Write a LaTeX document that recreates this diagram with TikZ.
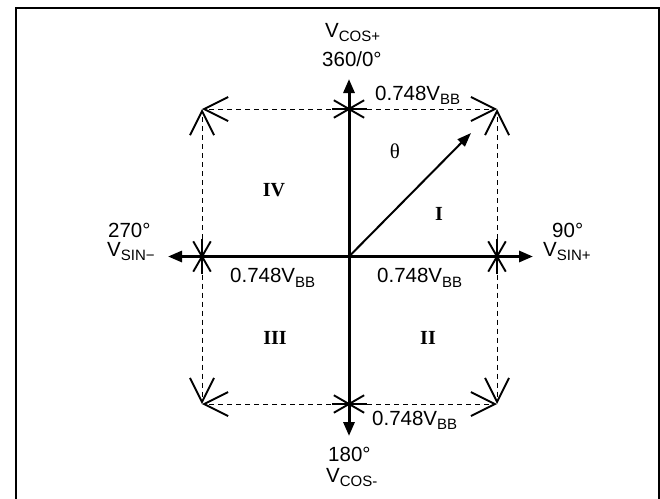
\documentclass[tikz,border=0pt]{standalone}
\usepackage{fontspec}
\setmainfont{Liberation Sans}
\newfontfamily\romanfont{Liberation Serif}
\usetikzlibrary{arrows.meta,calc}
\newcommand{\Vsub}[2]{#1\raisebox{-4.5pt}{\fontsize{15}{15}\selectfont #2}}
\begin{document}
\begin{tikzpicture}[x=1pt,y=-1pt,
  lbl/.style={inner sep=0pt,anchor=base west,font=\fontsize{20.5}{22}\selectfont},
  quad/.style={inner sep=0pt,font=\romanfont\bfseries\fontsize{20}{22}\selectfont},
  axis/.style={line width=3pt,-{Triangle[length=14pt,width=11pt]}},
  vec/.style={line width=2pt,-{Triangle[length=14pt,width=10pt]}},
  guide/.style={line width=0.8pt,dash pattern=on 5pt off 4pt,
    -{Straight Barb[length=24pt,width=24pt,line width=1.9pt]}},
  startick/.style={line width=1.9pt},
  frame/.style={line width=2pt}]
\useasboundingbox (0,0) rectangle (660,498);
% frame
\draw[frame] (16,499) -- (16,8) -- (659,8) -- (659,499);
% key points
\coordinate (O) at (349,256.5);
\coordinate (T) at (349,109);
\coordinate (B) at (349,404);
\coordinate (L) at (202,256.5);
\coordinate (R) at (497,256.5);
\coordinate (TL) at (202,109);
\coordinate (TR) at (497,109);
\coordinate (BL) at (202,404);
\coordinate (BR) at (497,404);
\coordinate (TT) at (349,79);
\coordinate (BT) at (349,436);
\coordinate (LT) at (168,256.5);
\coordinate (RT) at (533,256.5);
\coordinate (V) at (471,133);
% dashed guides with open heads at the corners
\draw[guide] (T) -- (TL);
\draw[guide] (T) -- (TR);
\draw[guide] (B) -- (BL);
\draw[guide] (B) -- (BR);
\draw[guide] (L) -- (TL);
\draw[guide] (L) -- (BL);
\draw[guide] (R) -- (TR);
\draw[guide] (R) -- (BR);
% axes
\draw[axis] (O) -- (TT);
\draw[axis] (O) -- (BT);
\draw[axis] (O) -- (LT);
\draw[axis] (O) -- (RT);
% vector
\draw[vec] (O) -- (V);
% star markers
\foreach \p in {T,B}{
  \foreach \a in {0,30,150}{
    \draw[startick] ($(\p)+(\a:17.5)$) -- ($(\p)+(\a+180:17.5)$);}}
\foreach \p in {L,R}{
  \foreach \a in {90,60,120}{
    \draw[startick] ($(\p)+(\a:17.5)$) -- ($(\p)+(\a+180:17.5)$);}}
% labels
\node[lbl] (vcosp) at (325,37) {\Vsub{V}{COS+}};
\node[lbl] (d0) at (322,66) {360/0°};
\node[lbl] (kt) at (375,100) {0.748\Vsub{V}{BB}};
\node[lbl] (d270) at (108,237) {270°};
\node[lbl] (vsinm) at (107,256) {\Vsub{V}{SIN−}};
\node[lbl] (d90) at (552,237) {90°};
\node[lbl] (vsinp) at (543,256) {\Vsub{V}{SIN+}};
\node[lbl] (kl) at (230,282.5) {0.748\Vsub{V}{BB}};
\node[lbl] (kr) at (377,282.5) {0.748\Vsub{V}{BB}};
\node[lbl] (kb) at (372,425) {0.748\Vsub{V}{BB}};
\node[lbl] (d180) at (328,461) {180°};
\node[lbl] (vcosm) at (326,482) {\Vsub{V}{COS-}};
\node[inner sep=0pt,font=\romanfont\fontsize{21}{22}\selectfont] (th) at (395,151) {θ};
\node[quad] (q4) at (274,190) {IV};
\node[quad] (q1) at (439,214) {I};
\node[quad] (q3) at (275,337.5) {III};
\node[quad] (q2) at (428,337.5) {II};
\end{tikzpicture}
\end{document}
